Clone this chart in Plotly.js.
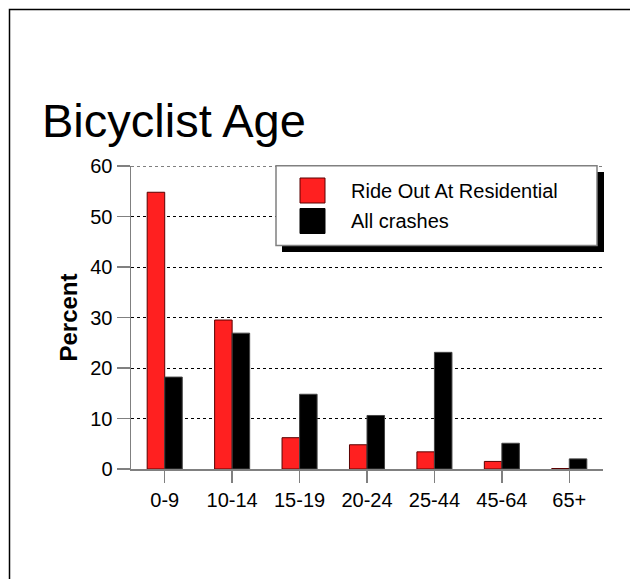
<!DOCTYPE html>
<html>
<head>
<meta charset="utf-8">
<script src="https://cdn.plot.ly/plotly-3.0.1.min.js"></script>
<style>
  html, body { margin: 0; padding: 0; background: #fff; }
  #chart { width: 630px; height: 579px; }
</style>
</head>
<body>
<div id="chart"></div>
<script>
// ---- Data ----
const categories = ['0-9', '10-14', '15-19', '20-24', '25-44', '45-64', '65+'];
const rideOut = [54.8, 29.5, 6.2, 4.8, 3.4, 1.5, 0.1];
const allCrashes = [18.2, 26.9, 14.8, 10.6, 23.1, 5.1, 2.0];
const seriesNames = ['Ride Out At Residential', 'All crashes'];
const yTicks = [0, 10, 20, 30, 40, 50, 60];

// ---- Layout geometry ----
const W = 630, H = 579;
const M = { l: 131, r: 27, t: 166, b: 110 };
const PW = W - M.l - M.r, PH = H - M.t - M.b;
const px = x => (x - M.l) / PW;        // pixel -> paper x
const py = y => (H - M.b - y) / PH;    // pixel -> paper y

const FONT = 'Liberation Sans, Arial, sans-serif';
const RED = '#ff2020';

const traces = [
  {
    type: 'bar', name: seriesNames[0], x: categories, y: rideOut,
    marker: { color: RED, line: { color: '#5a0000', width: 1 } },
    showlegend: false, hoverinfo: 'x+y'
  },
  {
    type: 'bar', name: seriesNames[1], x: categories, y: allCrashes,
    marker: { color: '#000000', line: { color: '#444444', width: 1 } },
    showlegend: false, hoverinfo: 'x+y'
  }
];

const shapes = [
  // top gridline (at the edge of the range, which plotly omits)
  { type: 'line', xref: 'paper', yref: 'y', x0: 0, x1: 1, y0: yTicks[yTicks.length - 1], y1: yTicks[yTicks.length - 1],
    line: { color: '#000', width: 1, dash: 'dot' }, layer: 'below' },
  // outer frame
  { type: 'rect', xref: 'paper', yref: 'paper', x0: px(9.5), x1: px(645), y0: py(9.5), y1: py(600),
    line: { color: '#000', width: 1.5 }, fillcolor: 'rgba(0,0,0,0)', layer: 'above' },
  // legend shadow
  { type: 'rect', xref: 'paper', yref: 'paper', x0: px(282), x1: px(604), y0: py(172), y1: py(252),
    line: { width: 0 }, fillcolor: '#000', layer: 'above' },
  // legend box
  { type: 'rect', xref: 'paper', yref: 'paper', x0: px(276), x1: px(597), y0: py(165.7), y1: py(245.5),
    line: { color: '#808080', width: 1.5 }, fillcolor: '#fff', layer: 'above' },
  // swatches
  { type: 'rect', xref: 'paper', yref: 'paper', x0: px(300), x1: px(325), y0: py(178), y1: py(203),
    line: { color: '#5a0000', width: 1 }, fillcolor: RED, layer: 'above' },
  { type: 'rect', xref: 'paper', yref: 'paper', x0: px(300), x1: px(325), y0: py(208.5), y1: py(233.5),
    line: { color: '#000', width: 1 }, fillcolor: '#000', layer: 'above' }
];

const annotations = [
  { xref: 'paper', yref: 'paper', x: px(349), y: py(191), xanchor: 'left', yanchor: 'middle',
    text: seriesNames[0], showarrow: false, font: { family: FONT, size: 20, color: '#000' } },
  { xref: 'paper', yref: 'paper', x: px(349), y: py(221), xanchor: 'left', yanchor: 'middle',
    text: seriesNames[1], showarrow: false, font: { family: FONT, size: 20, color: '#000' } }
];

const layout = {
  width: W, height: H,
  margin: M,
  paper_bgcolor: '#fff', plot_bgcolor: '#fff',
  font: { family: FONT, color: '#000', size: 20 },
  title: {
    text: 'Bicyclist Age', xref: 'container', yref: 'container',
    x: 42 / W, xanchor: 'left', y: 1 - 121 / H, yanchor: 'middle',
    font: { family: FONT, size: 47, color: '#000' }
  },
  barmode: 'group', bargap: 0.48, bargroupgap: 0,
  xaxis: {
    type: 'category', showline: true, linecolor: '#808080', linewidth: 1.5,
    ticks: 'outside', ticklen: 12, tickcolor: '#808080', tickwidth: 1.5,
    showgrid: false, zeroline: false, tickfont: { family: FONT, size: 20 }, fixedrange: true
  },
  xaxis2: {
    overlaying: 'x', anchor: 'y', side: 'bottom', range: [-0.5, 6.5],
    tickvals: [0.5, 1.5, 2.5, 3.5, 4.5, 5.5], ticks: 'outside', ticklen: 3,
    tickcolor: '#808080', tickwidth: 1, showticklabels: false, showgrid: false,
    zeroline: false, showline: false
  },
  yaxis: {
    range: [0, 60], tickvals: yTicks, ticktext: yTicks.map(String),
    showline: true, linecolor: '#808080', linewidth: 1.5,
    ticks: 'outside', ticklen: 13, tickcolor: '#808080', tickwidth: 1.5,
    showgrid: true, gridcolor: '#000', gridwidth: 1, griddash: 'dot',
    zeroline: false, tickfont: { family: FONT, size: 20 }, fixedrange: true,
    title: { text: '<b>Percent</b>', font: { family: FONT, size: 24 }, standoff: 6 }
  },
  shapes: shapes,
  annotations: annotations,
  showlegend: false
};

Plotly.newPlot('chart', traces, layout, { displayModeBar: false, staticPlot: true });
</script>
</body>
</html>
